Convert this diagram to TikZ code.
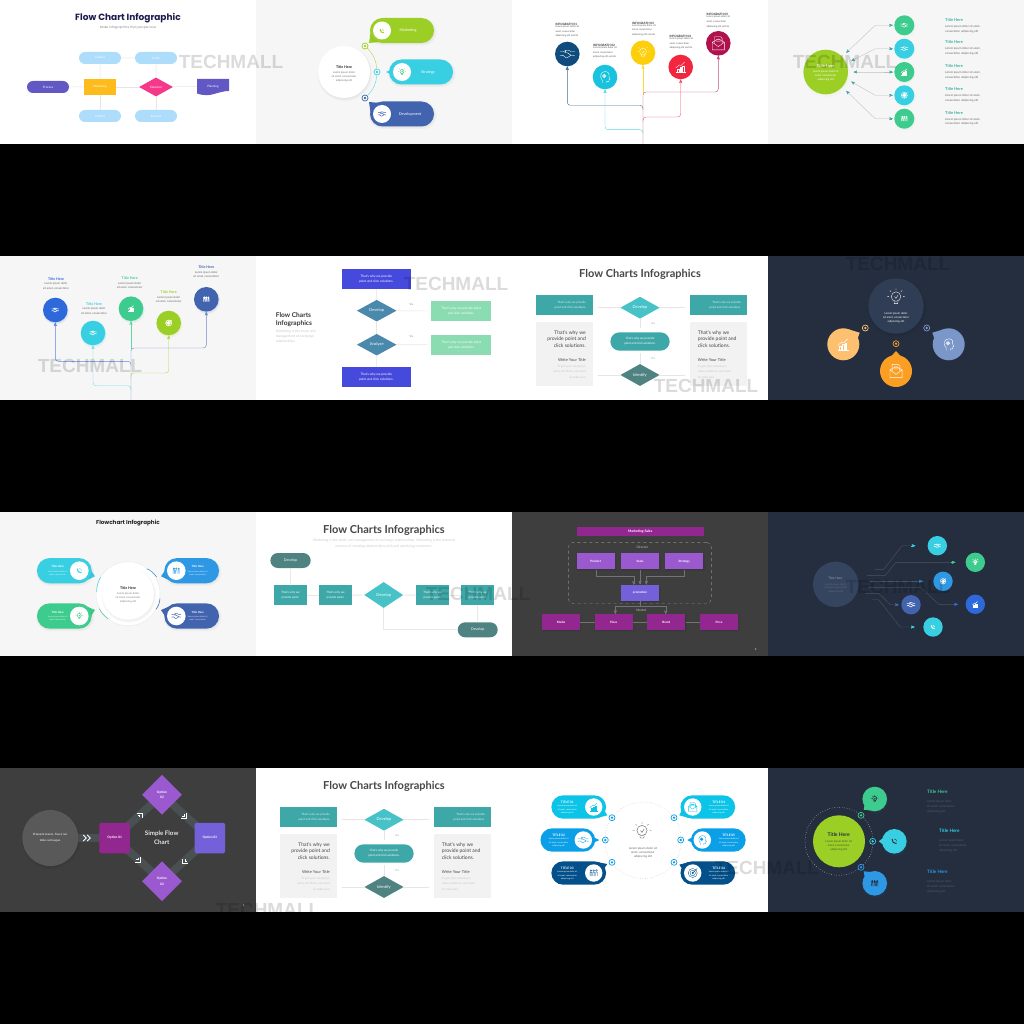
\documentclass[tikz,border=0pt]{standalone}
\usepackage{fontspec}
\setmainfont{Lato}
\newfontfamily\popfont{Poppins}
\newfontfamily\markfont{Liberation Sans}
\usepackage{xcolor}
\definecolor{cInk}{RGB}{29,27,76}
\definecolor{cSky}{RGB}{174,220,251}
\definecolor{cPlum}{RGB}{98,88,196}
\definecolor{cAmber}{RGB}{253,187,28}
\definecolor{cPink}{RGB}{245,56,138}
\definecolor{cPaper}{RGB}{246,246,246}
\definecolor{cLime}{RGB}{156,207,37}
\definecolor{cAqua}{RGB}{56,207,227}
\definecolor{cIndigo}{RGB}{66,99,174}
\definecolor{cMint}{RGB}{62,203,142}
\definecolor{cNavy}{RGB}{15,76,125}
\definecolor{cCyan}{RGB}{25,195,222}
\definecolor{cYellow}{RGB}{253,207,10}
\definecolor{cRed}{RGB}{242,38,63}
\definecolor{cCrimson}{RGB}{176,18,78}
\definecolor{cTeal}{RGB}{62,168,168}
\definecolor{cTealB}{RGB}{71,194,199}
\definecolor{cTealC}{RGB}{79,131,130}
\definecolor{cSteel}{RGB}{74,137,171}
\definecolor{cBlue}{RGB}{69,73,220}
\definecolor{cSea}{RGB}{139,220,176}
\definecolor{cSlate}{RGB}{36,46,63}
\definecolor{cSlateB}{RGB}{47,61,85}
\definecolor{cSlateC}{RGB}{53,68,95}
\definecolor{cChar}{RGB}{62,62,62}
\definecolor{cBar}{RGB}{74,79,82}
\definecolor{cMag}{RGB}{146,39,143}
\definecolor{cPurp}{RGB}{155,89,208}
\definecolor{cVio}{RGB}{116,96,216}
\definecolor{cRoyal}{RGB}{46,105,219}
\definecolor{cAzure}{RGB}{46,152,229}
\definecolor{cPeach}{RGB}{253,191,112}
\definecolor{cOrange}{RGB}{251,159,36}
\definecolor{cDust}{RGB}{123,150,200}
\definecolor{cTurq}{RGB}{12,195,232}
\definecolor{cOcean}{RGB}{11,159,232}
\definecolor{cDeep}{RGB}{4,80,138}
\usetikzlibrary{positioning}
\usetikzlibrary{arrows,shapes,shapes.misc,shapes.geometric}
\usetikzlibrary{shadows}
\usetikzlibrary{calc}
\newcommand{\softop}{.025}
\tikzset{
  softshadow/.style={
    general shadow={shadow xshift=.4pt,shadow yshift=-.8pt,shadow scale=1,opacity=\softop,fill=#1},
    general shadow={shadow xshift=.6pt,shadow yshift=-1.2pt,shadow scale=1.03,opacity=\softop,fill=#1},
    general shadow={shadow xshift=.8pt,shadow yshift=-1.6pt,shadow scale=1.06,opacity=\softop,fill=#1}},
  softshadow/.default=black,
  tinytext/.style={inner sep=0,align=center,font=\fontsize{2.7}{4}\selectfont},
  labeltext/.style={inner sep=0,align=center,text=white,font=\fontsize{3.4}{4.6}\selectfont},
  headtext/.style={inner sep=0,font=\bfseries\fontsize{3.6}{4.6}\selectfont},
  bigtitle/.style={inner sep=0,text=black!72,font=\bfseries\fontsize{11}{13}\selectfont},
  pillbox/.style={rounded rectangle,inner sep=0,text=white,minimum width=#1},
  boxshape/.style={rectangle,inner sep=0,text=white,align=center,font=\fontsize{3.2}{4.6}\selectfont},
  diamondbox/.style={diamond,inner sep=0,text=white,font=\fontsize{4}{5}\selectfont},
  whitedot/.style={circle,fill=white,inner sep=0,minimum size=#1},
  ringdot/.style={circle,draw=#1,fill=white,line width=.7pt,inner sep=0,minimum size=6pt,
    path picture={\fill[#1] (path picture bounding box.center) circle (1.3pt);}},
  faintline/.style={draw=black!10,line width=.5pt},
  watermark/.style={inner sep=0,opacity=.14,text=black,font=\markfont\bfseries\fontsize{19}{19}\selectfont},
  chartico/.pic={
    \draw[pic actions] (-5,5) -- (5,5) (-3.5,5) -- (-3.5,2) -- (-2,2) -- (-2,5) (-1,5) -- (-1,0) -- (.5,0) -- (.5,5) (1.5,5) -- (1.5,-1) -- (3,-1) -- (3,5);
    \draw[pic actions] (-5,1) -- (-1.5,-2) -- (.5,-1.5) -- (4,-5);
  },
  bulbico/.pic={
    \draw[pic actions] (0,-1) circle (3.4) (-1.4,2.4) -- (-1.2,4) -- (1.2,4) -- (1.4,2.4) (-1,-1) -- (0,.3) -- (1.4,-2);
    \draw[pic actions] (-5,-1) -- (-6.2,-1) (5,-1) -- (6.2,-1) (0,-5.5) -- (0,-6.8) (-3.5,-4.5) -- (-4.4,-5.4) (3.5,-4.5) -- (4.4,-5.4);
  },
  headico/.pic={
    \draw[pic actions] (-2.5,6) -- (-2.5,3.5) .. controls (-5.5,1) and (-5,-5.5) .. (0,-5.5) .. controls (4,-5.5) and (5,-2) .. (4,0) -- (5.2,2.2) -- (4,2.6) -- (4,4.6) -- (1.5,4.6) -- (1.5,6);
    \draw[pic actions] (-.8,-1) circle (1.9) (-.8,-1) circle (.6);
  },
  mailico/.pic={
    \draw[pic actions] (-5.5,-1) -- (-5.5,6) -- (5.5,6) -- (5.5,-1) -- (0,-4) -- cycle (-5.5,-1) -- (0,3) -- (5.5,-1);
    \draw[pic actions] (-3.5,0) -- (-3.5,-6) -- (2,-6) -- (3.5,-4.5) -- (3.5,0) (-2,-3.5) -- (2,-3.5) (-2,-2) -- (2,-2);
  },
  handico/.pic={
    \draw[pic actions] (-6,-2) -- (-3,-2) -- (-1,-3) -- (1,-3) -- (3,-2) -- (6,-2) (-6,1.5) -- (-3.5,1) -- (-1,3) -- (0,3) -- (3,1) -- (6,1.5);
    \draw[pic actions] (-1,-3) -- (-2,-1) -- (0,-1) -- (3,1);
  },
  peopleico/.pic={
    \foreach \u in {-3.5,0,3.5}{
      \draw[pic actions] (\u,-3) circle (1.1) (\u-1,4) -- (\u-1,-1) -- (\u+1,-1) -- (\u+1,4);
    }
  },
  phoneico/.pic={
    \draw[pic actions,line width=1pt] (-3,-3) .. controls (-3,1) and (-1,3) .. (3,3);
    \draw[pic actions] (0,-3) .. controls (2,-3) and (3,-2) .. (3,0);
  },
  targetico/.pic={
    \draw[pic actions] (0,0) circle (5) (0,0) circle (3) (0,0) circle (1) (0,0) -- (5,-5);
  },
  cornerico/.pic={
    \draw[pic actions] (-3,-3.5) -- (3.5,-3.5) -- (3.5,3) (-2,-.5) -- (.5,-.5) -- (.5,2);
  },
  chevronico/.pic={
    \draw[pic actions] (-3.5,-3) -- (-.5,0) -- (-3.5,3) (.5,-3) -- (3.5,0) -- (.5,3);
  },
}

\begin{document}
\begin{tikzpicture}[x=1pt,y=-1pt]
\useasboundingbox (0,0) rectangle (1024,1024);
%everything sits on black, tiles on top
\fill[black] (0,0) rectangle (1024,1024);
\foreach \x/\y/\col in {0/0/white,256/0/cPaper,512/0/white,768/0/cPaper,
  0/256/cPaper,256/256/white,512/256/white,768/256/cSlate,
  0/512/cPaper,256/512/white,512/512/cChar,768/512/cSlate,
  0/768/cChar,256/768/white,512/768/white,768/768/cSlate}{
  \fill[\col] (\x,\y) rectangle ++(256,144);
}

%flow chart with blue pills
\node (a0) at (128,18) [inner sep=0,text=cInk,font=\popfont\bfseries\fontsize{9}{11}\selectfont] {Flow Chart Infographic};
\node (a9) at (128,28) [inner sep=0,text=black!45,font=\popfont\fontsize{3.2}{4}\selectfont] {Make infographics that people love};
\foreach \n/\x/\y/\col/\txt in {a1/100/58/cSky/Capital,a2/156/58/cSky/Profit,a3/48/87/cPlum/Process,a4/100/116/cSky/Control,a5/156/116/cSky/Success}{
  \node (\n) at (\x,\y) [pillbox=42pt,minimum height=12pt,fill=\col,font=\fontsize{3}{4}\selectfont] {\txt};
}
\node (a6) at (100,87) [boxshape,fill=cAmber,minimum width=32pt,minimum height=16pt,font=\fontsize{3}{4}\selectfont] {Marketing};
\node (a7) at (156,87) [diamondbox,fill=cPink,minimum width=34pt,minimum height=19pt,font=\fontsize{3}{4}\selectfont] {Decision};
\fill[cPlum] (197,79) -- (229,79) -- (229,91) .. controls (220,91) and (212,96) .. (205,95) .. controls (201,95) and (199,94) .. (197,93.5) -- cycle;
\node (a8) at (213,86.5) [labeltext,minimum width=32pt,font=\fontsize{3}{4}\selectfont] {Planning};
\draw[faintline] (a1) -- (a6);
\draw[faintline] (a6) -- (a4);
\draw[faintline] (a2) -- (a7);
\draw[faintline] (a7) -- (a5);
\draw[faintline] (a1) -- (a2);
\draw[faintline] (a3) -- (a6);
\draw[faintline] (a6) -- (a7);
\draw[faintline] (a7) -- (a8.west);

%three speech pills
\begin{scope}[shift={(256,0)}]
\node (b0) at (88,72) [whitedot=52pt,softshadow] {};
\node (b1) at (88,67) [headtext,text=black!85] {Title Here};
\node (b2) at (88,77) [tinytext,text=black!55] {Lorem ipsum dolor\\sit amet, consectetur\\adipiscing elit};
\fill[cLime] (114.5,33) -- (113,43) -- (124,42) -- cycle;
\fill[cAqua] (137,69) -- (130,72) -- (137,75) -- cycle;
\fill[cIndigo] (114.5,112) -- (113,102) -- (124,103) -- cycle;
\foreach \n/\x/\y/\col/\tx/\ix/\txt in {3/146/30.5/cLime/152/126/Marketing,4/165/72/cAqua/172/146/Strategy,5/146/114/cIndigo/154/126/Development}{
  \node (b\n) at (\x,\y) [pillbox=64pt,minimum height=25pt,fill=\col,softshadow] {};
  \node (bw\n) at (\ix,\y) [whitedot=18pt] {};
  \node (bt\n) at (\tx,\y) [labeltext,font=\fontsize{3.8}{5}\selectfont] {\txt};
}
\pic[draw=cLime,line width=.4pt,scale=.6] at (126,31) {phoneico};
\pic[draw=cMint,line width=.4pt,scale=.6] at (146,72) {bulbico};
\pic[draw=cIndigo,line width=.5pt,scale=.7] at (126,114) {handico};
\node (br1) at (109,46) [ringdot=cLime] {};
\node (br2) at (121,72) [ringdot=cAqua] {};
\node (br3) at (109,98) [ringdot=cIndigo] {};
\draw[cLime!70,line width=.5pt] (br1) to[bend left=20] (br2);
\draw[cAqua!70,line width=.5pt] (br2) to[bend left=20] (br3);
\end{scope}

%two trees of circles
\foreach \k/\ox/\oy/\softop/\ca/\cb/\cc/\cd/\ce in {c/512/0/0/cNavy/cCyan/cYellow/cRed/cCrimson,e/0/256/.06/cRoyal/cAqua/cMint/cLime/cIndigo}{
  \begin{scope}[shift={(\ox,\oy)}]
  \node (\k1) at (55.3,54) [circle,fill=\ca,minimum size=24.6pt,inner sep=0,softshadow=\ca] {};
  \node (\k2) at (93,77) [circle,fill=\cb,minimum size=24.6pt,inner sep=0,softshadow=\cb] {};
  \node (\k3) at (131,52.7) [circle,fill=\cc,minimum size=24.6pt,inner sep=0,softshadow=\cc] {};
  \node (\k4) at (168.7,67) [circle,fill=\cd,minimum size=24.6pt,inner sep=0,softshadow=\cd] {};
  \node (\k5) at (206.3,43.3) [circle,fill=\ce,minimum size=24.6pt,inner sep=0,softshadow=\ce] {};
  \coordinate (\k0) at (131,144);
  \coordinate (\k6) at (131,93);
  \draw[->,>=stealth',rounded corners=3pt,line width=.4pt,draw=\ca!80] (131,110) -- (131,105.3) -- (55.3,105.3) -- (\k1);
  \draw[->,>=stealth',rounded corners=3pt,line width=.4pt,draw=\cb!70] (131,134) -- (131,129.7) -- (93,129.7) -- (\k2);
  \draw[->,>=stealth',line width=.4pt,draw=\cc!80] (\k6) -- (\k3);
  \draw[->,>=stealth',rounded corners=3pt,line width=.4pt,draw=\cd!80] (131,122) -- (131,117) -- (168.7,117) -- (\k4);
  \draw[->,>=stealth',rounded corners=3pt,line width=.4pt,draw=\ce!75] (\k0) -- (131,92) -- (206.3,92) -- (\k5);
  \end{scope}
}
\begin{scope}[shift={(512,0)}]
\foreach \n/\x/\y in {1/43.3/24.5,2/81/45.3,3/120/23,4/157.3/36.3,5/194.3/14.7}{
  \node (ct\n) at (\x,\y) [headtext,anchor=west,text=black!80,font=\bfseries\fontsize{3}{4}\selectfont] {INFOGRATH 0\n};
  \node (cl\n) at (\x,\y+7.2) [tinytext,anchor=west,align=left,text=black!65,font=\fontsize{2.5}{4.6}\selectfont] {Lorem ipsum dolor sit\\amet, consectetur\\adipiscing elit sed do};
}
\pic[draw=white,line width=.35pt,scale=1.25] at (c1) {handico};
\pic[draw=white,line width=.35pt] at (c2) {headico};
\pic[draw=white,line width=.35pt] at (c3) {bulbico};
\pic[draw=white,line width=.35pt] at (c4) {chartico};
\pic[draw=white,line width=.35pt,scale=1.1] at (c5) {mailico};
\end{scope}

%big circle with five arrows
\begin{scope}[shift={(768,0)}]
\node (d0) at (57.7,72) [circle,fill=cLime,minimum size=44.6pt,inner sep=0,softshadow=cLime] {};
\node (d8) at (57.7,66.3) [headtext,text=white,font=\bfseries\fontsize{4}{5}\selectfont] {Title Here};
\node (d9) at (57.7,76) [tinytext,text=white] {Lorem ipsum dolor sit\\amet, consectetur\\adipiscing elit};
\foreach \n/\y/\tty/\col/\ax/\ay/\mx in {1/25.3/20.3/cMint/78.3/52.7/107.3,2/48.7/42.3/cAqua/83.3/61/107.3,3/72/66/cMint/85.7/72/107.3,4/95.3/89.3/cAqua/83.3/81.7/107.3,5/118.7/112.7/cMint/78.3/91/107.3}{
  \node (d\n) at (136.3,\y) [circle,fill=\col,minimum size=20pt,inner sep=0,softshadow=\col] {};
  \node (dt\n) at (177,\tty) [headtext,anchor=west,text=cTeal!90!cMint,font=\bfseries\fontsize{4}{5}\selectfont] {Title Here};
  \node (dl\n) at (177,\tty+9) [tinytext,anchor=west,align=left,text=black!60,font=\fontsize{2.9}{4.4}\selectfont] {Lorem ipsum dolor sit amet,\\consectetur adipiscing elit};
  \coordinate (ds\n) at (\ax,\ay);
  \coordinate (de\n) at (124.7,\y);
  \draw[line width=.35pt,draw=black!25] (ds\n) -- (\mx,\y) -- (de\n);
  \draw[<-,>=stealth',line width=.35pt,draw=cTeal] (ds\n) -- ($(ds\n)!2.5pt!(\mx,\y)$);
  \draw[->,>=stealth',line width=.35pt,draw=cTeal] (121.7,\y) -- (de\n);
}
\pic[draw=white,line width=.5pt,scale=.6] at (d1) {handico};
\pic[draw=white,line width=.5pt,scale=.6] at (d2) {handico};
\pic[draw=white,line width=.5pt,scale=.6] at (d3) {chartico};
\pic[draw=white,line width=.5pt,scale=.6] at (d4) {targetico};
\pic[draw=white,line width=.5pt,scale=.6] at (d5) {peopleico};
\end{scope}

%second tree labels
\begin{scope}[shift={(0,256)}]
\foreach \n/\x/\y/\col in {1/56/22.7/cRoyal,2/94/47.7/cAqua,3/129.7/22/cMint,4/168.7/36/cLime,5/206.3/11.3/cIndigo}{
  \node (et\n) at (\x,\y) [headtext,text=\col,font=\bfseries\fontsize{3.6}{4.6}\selectfont] {Title Here};
  \node (el\n) at (\x,\y+7.4) [tinytext,text=black!60,font=\fontsize{2.8}{4.2}\selectfont] {Lorem ipsum dolor\\sit amet, consectetur};
}
\pic[draw=white,line width=.6pt,scale=.6] at (e1) {handico};
\pic[draw=white,line width=.6pt,scale=.6] at (e2) {handico};
\pic[draw=white,line width=.6pt,scale=.6] at (e3) {chartico};
\pic[draw=white,line width=.6pt,scale=.6] at (e4) {targetico};
\pic[draw=white,line width=.6pt,scale=.6] at (e5) {peopleico};
\end{scope}

%blue boxes and two decisions
\begin{scope}[shift={(256,256)}]
\node (f1) at (120.3,23) [boxshape,fill=cBlue,minimum width=69pt,minimum height=20pt] {That's why we provide\\point and click solutions.};
\node (f2) at (120.7,54.7) [diamondbox,fill=cSteel,minimum width=39.7pt,minimum height=21.7pt] {Develop};
\node (f3) at (120.7,88.7) [diamondbox,fill=cSteel,minimum width=39.7pt,minimum height=21.7pt] {Analyze};
\node (f4) at (120.3,121) [boxshape,fill=cBlue,minimum width=69pt,minimum height=20pt] {That's why we provide\\point and click solutions.};
\node (f5) at (205.3,54.8) [boxshape,fill=cSea,minimum width=60pt,minimum height=20pt] {That's why we provide point\\and click solutions.};
\node (f6) at (205.3,88.5) [boxshape,fill=cSea,minimum width=60pt,minimum height=20pt] {That's why we provide point\\and click solutions.};
\draw[faintline] (f1) -- (f2);
\draw[faintline] (f2) -- (f3);
\draw[faintline] (f3) -- (f4);
\draw[faintline] (f2) -- ([xshift=-4pt]f5.west);
\draw[faintline] (f3) -- ([xshift=-4pt]f6.west);
\node (f7) at (155.3,48.7) [tinytext,text=black!45] {Yes};
\node (f8) at (155.3,81) [tinytext,text=black!45] {Yes};
\node (f9) at (19.7,63.7) [inner sep=0,anchor=west,align=left,text=black!78,font=\bfseries\fontsize{6.6}{8}\selectfont] {Flow Charts\\Infographics};
\node (f10) at (19.7,80.8) [inner sep=0,anchor=west,align=left,text=black!22,font=\fontsize{3.4}{4.9}\selectfont] {Marketing is the study and\\management of exchange\\relationships.};
\end{scope}

%teal boxes, used twice
\foreach \k/\ox/\oy in {g/512/256,n/256/768}{
  \begin{scope}[shift={(\ox,\oy)}]
  \node (\k0) at (128,18) [bigtitle] {Flow Charts Infographics};
  \node (\k1) at (52.3,49) [boxshape,fill=cTeal,minimum width=57.3pt,minimum height=20pt] {};
  \node (\k2) at (206.8,49) [boxshape,fill=cTeal,minimum width=57.3pt,minimum height=20pt] {};
  \node (\k3) at (74,49) [anchor=east,labeltext,align=right,text=white!80!cTeal,font=\fontsize{2.9}{5}\selectfont] {That's why we provide\\point and click solutions.};
  \node (\k4) at (229,49) [anchor=east,labeltext,align=right,text=white!80!cTeal,font=\fontsize{2.9}{5}\selectfont] {That's why we provide\\point and click solutions.};
  \node (\k5) at (128,51.7) [diamondbox,fill=cTealB,minimum width=39.3pt,minimum height=22pt] {Develop};
  \node (\k6) at (128,85.5) [pillbox=59.3pt,minimum height=18.4pt,fill=cTeal,align=center,font=\fontsize{2.9}{5}\selectfont] {That's why we provide\\point and click solutions.};
  \node (\k7) at (128,119) [diamondbox,fill=cTealC,minimum width=39.3pt,minimum height=22pt] {Identify};
  \coordinate (\k8) at (86.3,51.7);
  \coordinate (\k9) at (173.3,51.7);
  \coordinate (\k10) at (86.3,119);
  \coordinate (\k11) at (173.3,119);
  \draw[faintline] (\k8) -- (\k5);
  \draw[faintline] (\k5) -- (\k9);
  \draw[faintline] (\k10) -- (\k7);
  \draw[faintline] (\k7) -- (\k11);
  \draw[faintline] (\k5) -- (128,71.5);
  \draw[faintline] (\k7) -- (128,96.5);
  \node (\k12) at (141,67.7) [tinytext,text=black!35] {Yes};
  \node (\k13) at (141,103) [tinytext,text=black!35] {Yes};
  \node (\k14) at (52.3,97.8) [boxshape,fill=black!5,minimum width=57.3pt,minimum height=64.3pt] {};
  \node (\k15) at (206.8,97.8) [boxshape,fill=black!5,minimum width=57.3pt,minimum height=64.3pt] {};
  \node (\k16) at (74,82.7) [anchor=east,inner sep=0,align=right,text=black!72,font=\fontsize{5}{6.5}\selectfont] {That's why we\\provide point and\\click solutions.};
  \node (\k17) at (74,104) [anchor=east,inner sep=0,text=black!72,font=\fontsize{4}{5}\selectfont] {Write Your Title};
  \node (\k18) at (74,115.5) [anchor=east,inner sep=0,align=right,text=black!22,font=\fontsize{2.9}{5.5}\selectfont] {To get your company's\\name out there, you need\\to make sure};
  \node (\k19) at (185.7,82.7) [anchor=west,inner sep=0,align=left,text=black!72,font=\fontsize{5}{6.5}\selectfont] {That's why we\\provide point and\\click solutions.};
  \node (\k20) at (185.7,104) [anchor=west,inner sep=0,text=black!72,font=\fontsize{4}{5}\selectfont] {Write Your Title};
  \node (\k21) at (185.7,115.5) [anchor=west,inner sep=0,align=left,text=black!22,font=\fontsize{2.9}{5.5}\selectfont] {To get your company's\\name out there, you need\\to make sure};
  \end{scope}
}

%dark tile with three bubbles
\begin{scope}[shift={(768,256)}]
\node (h0) at (128,50) [circle,fill=cSlateB,minimum size=55.4pt,inner sep=0,softshadow] {};
\pic[draw=white,line width=.35pt,scale=1.4] at (128,42) {bulbico};
\node (h1) at (128,62) [tinytext,text=white,font=\fontsize{2.8}{3.9}\selectfont] {Lorem ipsum dolor\\sit amet, consectetur\\adipiscing elit};
\fill[cPeach] (81,73.5) -- (91.7,76.7) -- (89.5,83) -- cycle;
\fill[cOrange] (123,100.5) -- (128,95) -- (133,100.5) -- cycle;
\fill[cDust] (175,73.5) -- (164.3,76.7) -- (166.5,83) -- cycle;
\node (h2) at (75.3,88.3) [circle,fill=cPeach,minimum size=32pt,inner sep=0] {};
\node (h3) at (128,115) [circle,fill=cOrange,minimum size=32pt,inner sep=0] {};
\node (h4) at (180.7,88.3) [circle,fill=cDust,minimum size=32pt,inner sep=0] {};
\pic[draw=white,line width=.4pt,scale=1.1] at (h2) {chartico};
\pic[draw=white,line width=.4pt,scale=1.1] at (h3) {mailico};
\pic[draw=white,line width=.4pt] at (h4) {headico};
\node (h5) at (97.3,72) [ringdot=cPeach,fill=cSlate] {};
\node (h6) at (128,87.7) [ringdot=cOrange,fill=cSlate] {};
\node (h7) at (158.7,72) [ringdot=cDust,fill=cSlate] {};
\end{scope}

%four pills around a ring
\begin{scope}[shift={(0,512)}]
\node (i0) at (128,11.3) [inner sep=0,text=black!85,font=\popfont\bfseries\fontsize{5.6}{7}\selectfont] {Flowchart Infographic};
\node (i1) at (128,81.7) [circle,draw=black!8,line width=.5pt,fill=white,minimum size=64pt,inner sep=0] {};
\node (i2) at (128,81.7) [whitedot=52pt,softshadow] {};
\node (i3) at (128,75.7) [headtext,text=black!85] {Title Here};
\node (i4) at (128,86) [tinytext,text=black!50] {Lorem ipsum dolor\\sit amet, consectetur\\adipiscing elit};
\fill[cAqua] (90,57) -- (95,64.3) -- (85,69) -- cycle;
\fill[cAzure] (166,57) -- (161,64.3) -- (171,69) -- cycle;
\fill[cMint] (90,105.7) -- (95,98) -- (85,93.7) -- cycle;
\fill[cIndigo] (166,105.7) -- (161,98) -- (171,93.7) -- cycle;
\foreach \n/\x/\y/\col/\ix/\tx in {5/64.3/58.7/cAqua/79.3/57.7,6/191.7/58.7/cAzure/176.3/197.7,7/64.3/104/cMint/79.3/57.7,8/191.7/104/cIndigo/176.3/197.7}{
  \node (i\n) at (\x,\y) [pillbox=54.7pt,minimum height=25.3pt,fill=\col,softshadow] {};
  \node (iw\n) at (\ix,\y) [whitedot=18.6pt] {};
  \node (it\n) at (\tx,\y-4) [headtext,text=white,font=\bfseries\fontsize{2.8}{3.6}\selectfont] {Title Here};
  \node (il\n) at (\tx,\y+2.5) [tinytext,text=white!80!\col,font=\fontsize{2.1}{3.4}\selectfont] {Lorem ipsum dolor sit\\amet, consectetur};
}
\pic[draw=cAqua,line width=.4pt,scale=.7] at (iw5) {phoneico};
\pic[draw=cAzure,line width=.4pt,scale=.7] at (iw6) {peopleico};
\pic[draw=cMint,line width=.4pt,scale=.6] at (iw7) {bulbico};
\pic[draw=cIndigo,line width=.5pt,scale=.8] at (iw8) {handico};
\coordinate (i11) at (96.7,80);
\coordinate (i12) at (100.7,65);
\coordinate (i13) at (146.7,56.7);
\coordinate (i14) at (156.7,65);
\coordinate (i15) at (160,86.7);
\coordinate (i16) at (156,97.3);
\coordinate (i17) at (99.3,96.7);
\coordinate (i18) at (108.3,106.7);
\draw[cAqua,line width=.5pt] (i11) to[bend left=15] (i12);
\draw[cAzure,line width=.5pt] (i13) to[bend left=15] (i14);
\draw[cIndigo,line width=.5pt] (i15) to[bend left=15] (i16);
\draw[cMint,line width=.5pt] (i18) to[bend left=15] (i17);
\end{scope}

%teal flow row
\begin{scope}[shift={(256,512)}]
\node (j0) at (128,18) [bigtitle] {Flow Charts Infographics};
\node (j1) at (128,31.5) [inner sep=0,align=center,text=black!20,font=\fontsize{3.5}{5.6}\selectfont] {Marketing is the study and management of exchange relationships. Marketing is the business\\process of creating relationships with and satisfying customers.};
\node (j2) at (34.5,48.5) [pillbox=40.3pt,minimum height=15pt,fill=cTealC,font=\fontsize{3.6}{5}\selectfont] {Develop};
\foreach \n/\x in {3/34.5,4/79.5,6/176.5,7/221.5}{
  \node (j\n) at (\x,83.2) [boxshape,fill=cTeal,minimum width=33pt,minimum height=19.7pt,font=\fontsize{2.9}{4.4}\selectfont] {That's why we\\provide point.};
}
\node (j5) at (127.7,83) [diamondbox,fill=cTealB,minimum width=39pt,minimum height=26pt] {Develop};
\node (j8) at (221.7,117.8) [pillbox=40pt,minimum height=15pt,fill=cTealC,font=\fontsize{3.6}{5}\selectfont] {Develop};
\foreach \a/\b in {2/3,3/4,4/5,5/6,6/7,7/8}{
  \draw[black!9,line width=.8pt] (j\a) -- (j\b);
}
\draw[black!9,line width=.8pt] (j5) |- (j8);
\end{scope}

%purple organisation
\begin{scope}[shift={(512,512)}]
\node (k0) at (128.2,19.5) [boxshape,fill=cMag,minimum width=127pt,minimum height=9.6pt,font=\bfseries\fontsize{3.4}{4}\selectfont] {Marketing Sales};
\node (k1) at (127.8,61) [rectangle,rounded corners=5pt,draw=black!45,dashed,line width=.4pt,minimum width=143pt,minimum height=61.4pt] {};
\node (k2) at (130.3,35.3) [tinytext,text=black!25,font=\fontsize{3.2}{4}\selectfont] {Director};
\foreach \n/\x/\txt in {3/83.7/Product,4/128/Sales,5/172.3/Strategy}{
  \node (k\n) at (\x,49.3) [boxshape,fill=cPurp,minimum width=38pt,minimum height=16pt,font=\bfseries\fontsize{3}{4}\selectfont,softshadow] {\txt};
}
\node (k6) at (128,80.7) [boxshape,fill=cVio,minimum width=38pt,minimum height=16pt,font=\bfseries\fontsize{3}{4}\selectfont,softshadow] {promotion};
\node (k7) at (129.3,98.3) [tinytext,text=black!25,font=\fontsize{3.2}{4}\selectfont] {Market};
\foreach \n/\x/\txt in {8/49/Media,9/101.7/Place,10/154.3/Brand,11/207/Price}{
  \node (k\n) at (\x,110) [boxshape,fill=cMag,minimum width=38pt,minimum height=16pt,font=\bfseries\fontsize{3}{4}\selectfont,softshadow] {\txt};
}
\draw[->,>=stealth',black!55,line width=.4pt] (k3.south) -- (83.7,64.3) -- (121.7,64.3) -- (121.7,72.7);
\draw[->,>=stealth',black!55,line width=.4pt] (k4) -- (k6);
\draw[->,>=stealth',black!55,line width=.4pt] (k5.south) -- (172.3,64.3) -- (134.3,64.3) -- (134.3,72.7);
\draw[->,>=stealth',black!55,line width=.4pt] (k6.south) -- (128,94.3) -- (103.3,94.3) -- (103.3,102);
\draw[->,>=stealth',black!55,line width=.4pt] (k6.south) -- (128,94.3) -- (153.7,94.3) -- (153.7,102);
\draw[black!55,line width=.4pt] (k8) -- (k9);
\draw[black!55,line width=.4pt] (k9) -- (k10);
\draw[black!55,line width=.4pt] (k10) -- (k11);
\node (k12) at (243.7,137.3) [tinytext,text=white] {2};
\end{scope}

%dark tile, six arrows
\begin{scope}[shift={(768,512)}]
\node (l0) at (67.7,72.3) [circle,fill=cSlateC,minimum size=45.4pt,inner sep=0] {};
\node (l7) at (67.3,66.7) [headtext,text=white!55!cSlate,font=\fontsize{3.2}{4}\selectfont] {Title Here};
\node (l8) at (67.7,76) [tinytext,text=white!30!cSlate,font=\fontsize{2.5}{3.6}\selectfont] {Lorem ipsum dolor\\sit amet, consectetur\\adipiscing elit};
\foreach \n/\x/\y/\col/\ex/\sx/\sy/\pa/\pb/\pc/\pd in {1/169.3/33.7/cAqua/147.3/107.3/57.3/115.7/57.3/134/33.7,2/207.3/50.3/cMint/187.3/99/63.3/117.3/63.3/128/50.3,4/207.3/92.3/cRoyal/190/100.7/75.3/152.3/75.3/170.7/92.3,5/143/92.7/cIndigo/130.7/97.3/81.3/110.7/81.3/122.3/92.7,6/165/115/cAqua/146.7/104/87.7/110.7/87.7/132.3/115}{
  \node (l\n) at (\x,\y) [circle,fill=\col,minimum size=19.4pt,inner sep=0] {};
  \coordinate (ls\n) at (\sx,\sy);
  \coordinate (le\n) at (\ex,\y);
  \draw[line width=.4pt,draw=white!18!cSlate] (ls\n) -- (\pa,\pb) -- (\pc,\pd) -- (le\n);
  \draw[->,>=stealth',line width=.4pt,draw=\col] (\ex-4,\y) -- (le\n);
}
\node (l3) at (175,69.3) [circle,fill=cAzure,minimum size=19.4pt,inner sep=0] {};
\coordinate (ls3) at (102.3,69.3);
\coordinate (le3) at (154.7,69.3);
\draw[line width=.4pt,draw=white!18!cSlate] (ls3) -- (le3);
\draw[->,>=stealth',line width=.4pt,draw=cAzure] (150.7,69.3) -- (le3);
\pic[draw=white,line width=.5pt,scale=.55] at (l1) {handico};
\pic[draw=white,line width=.5pt,scale=.55] at (l2) {bulbico};
\pic[draw=white,line width=.5pt,scale=.55] at (l3) {targetico};
\pic[draw=white,line width=.5pt,scale=.55] at (l4) {chartico};
\pic[draw=white,line width=.6pt,scale=.7] at (l5) {handico};
\pic[draw=white,line width=.5pt,scale=.55] at (l6) {phoneico};
\end{scope}

%simple flow chart diamond
\begin{scope}[shift={(0,768)}]
\coordinate (m1) at (50.3,70);
\coordinate (m2) at (114.7,70);
\coordinate (m3) at (162,26.7);
\coordinate (m4) at (209.8,70);
\coordinate (m5) at (162,113.3);
\draw[line width=8pt,draw=cBar] (m1) -- (m2);
\draw[line width=8pt,draw=cBar] (m2) -- (m3) -- (m4) -- (m5) -- cycle;
\node (m6) at (m1) [circle,fill=black!65,minimum size=56pt,inner sep=0,align=center,text=white,font=\fontsize{2.9}{6}\selectfont,softshadow] {Praesent mauris. Fusce nec\\tellus sed augue.};
\node (m7) at (m2) [rectangle,rounded corners=1.5pt,fill=cMag,minimum size=30.5pt,inner sep=0,text=white,font=\bfseries\fontsize{3.2}{4}\selectfont] {Option 01};
\node (m8) at (m4) [rectangle,rounded corners=1.5pt,fill=cVio,minimum size=30.5pt,inner sep=0,text=white,font=\bfseries\fontsize{3.2}{4}\selectfont] {Option 03};
\node (m9) at (m3) [diamondbox,fill=cPurp,minimum size=40pt,align=center,font=\bfseries\fontsize{3.2}{5.5}\selectfont] {Option\\02};
\node (m10) at (m5) [diamondbox,fill=cPurp,minimum size=40pt,align=center,font=\bfseries\fontsize{3.2}{5.5}\selectfont] {Option\\02};
\node (m11) at (161.7,69.3) [inner sep=0,align=center,text=white!90!black,font=\bfseries\fontsize{6.2}{9}\selectfont] {Simple Flow\\Chart};
\pic[draw=white,line width=.9pt] at (86.7,70) {chevronico};
\pic[draw=white,line width=.8pt,scale=.8] at (139.3,47.7) {cornerico};
\pic[draw=white,line width=.8pt,scale=.8,rotate=-90] at (183.7,47.7) {cornerico};
\pic[draw=white,line width=.8pt,scale=.8,rotate=-90] at (137.7,91.3) {cornerico};
\pic[draw=white,line width=.8pt,scale=.8,rotate=-180] at (185.3,93) {cornerico};
\node (m12) at (243.7,137.3) [tinytext,text=white] {2};
\end{scope}

%six titled pills
\begin{scope}[shift={(512,768)}]
\node (o0) at (131,72.3) [circle,draw=black!25,dotted,line width=.5pt,minimum size=76.6pt,inner sep=0] {};
\pic[draw=black!70,line width=.35pt,scale=1.5] at (130,64) {bulbico};
\node (o1) at (131,85) [tinytext,text=black!60,font=\fontsize{3}{4}\selectfont] {Lorem ipsum dolor sit\\amet, consectetur\\adipiscing elit};
\fill[cTurq] (85,50) -- (95.3,47.3) -- (92,42) -- cycle;
\fill[cOcean] (80,68.5) -- (87.3,72) -- (80,75.5) -- cycle;
\fill[cDeep] (85,94) -- (95.3,96) -- (91,102) -- cycle;
\fill[cTurq] (177,50) -- (167.3,47.3) -- (170,42) -- cycle;
\fill[cOcean] (182,68.5) -- (175.3,72) -- (182,75.5) -- cycle;
\fill[cDeep] (177,94) -- (167.3,96.7) -- (171,102) -- cycle;
\foreach \n/\x/\y/\col/\ix/\tx in {1/66.7/39/cTurq/81.7/55.3,2/55.8/72/cOcean/71.3/46.7,3/66.7/105/cDeep/81.7/55.3,4/195.8/39/cTurq/180.7/206.7,5/206.3/72/cOcean/190.3/216.7,6/195.8/105/cDeep/180.7/206.7}{
  \node (op\n) at (\x,\y) [pillbox=54.7pt,minimum height=23.3pt,fill=\col] {};
  \node (ow\n) at (\ix,\y) [whitedot=17.4pt] {};
  \node (ot\n) at (\tx,\y-4.4) [headtext,text=white,font=\bfseries\fontsize{3.2}{4}\selectfont] {TITLE 0\n};
  \node (ol\n) at (\tx,\y+2.6) [tinytext,text=white,font=\fontsize{2.1}{3.2}\selectfont] {Lorem ipsum dolor sit\\sit amet, consectetur\\adipiscing elit};
}
\pic[draw=cTurq,line width=.35pt,scale=.8] at (ow1) {chartico};
\pic[draw=cOcean,line width=.35pt,scale=.9] at (ow2) {handico};
\pic[draw=cDeep,line width=.35pt,scale=.8] at (ow3) {peopleico};
\pic[draw=cTurq,line width=.35pt,scale=.75] at (ow4) {mailico};
\pic[draw=cOcean,line width=.35pt,scale=.8] at (ow5) {headico};
\pic[draw=cDeep,line width=.35pt,scale=.9] at (ow6) {targetico};
\foreach \n/\x/\y in {1/100/49.7,2/93.3/72,3/100/94.3,4/162/49.7,5/168.7/72,6/162/94.3}{
  \node (or\n) at (\x,\y) [ringdot=cOcean] {};
}
\end{scope}

%green circle with three bubbles
\begin{scope}[shift={(768,768)}]
\node (q0) at (71,73.3) [circle,draw=white!80!cSlate,dotted,line width=.5pt,minimum size=68pt,inner sep=0] {};
\node (q1) at (71,73.3) [circle,fill=cLime,minimum size=52pt,inner sep=0] {};
\node (q2) at (70.7,67) [headtext,text=cSlate,font=\bfseries\fontsize{5}{6}\selectfont] {Title Here};
\node (q3) at (70.7,78) [tinytext,text=cSlate!75!cLime,font=\fontsize{2.8}{4}\selectfont] {Lorem ipsum dolor sit\\amet, consectetur\\adipiscing elit};
\fill[cMint] (97,34) -- (95.7,41.7) -- (103.5,42.5) -- cycle;
\fill[cAqua] (115,70) -- (110.7,73.3) -- (115,76.5) -- cycle;
\fill[cAzure] (103,104) -- (95.7,103.3) -- (97,111) -- cycle;
\node (q4) at (106.7,31) [circle,fill=cMint,minimum size=24.6pt,inner sep=0,softshadow=cMint] {};
\node (q5) at (126.3,73.3) [circle,fill=cAqua,minimum size=24.6pt,inner sep=0,softshadow=cAqua] {};
\node (q6) at (106.7,115.3) [circle,fill=cAzure,minimum size=24.6pt,inner sep=0,softshadow=cAzure] {};
\pic[draw=cSlate,line width=.5pt,scale=.6] at (q4) {bulbico};
\pic[draw=cSlate,line width=.5pt,scale=.75] at (q5) {phoneico};
\pic[draw=cSlate,line width=.5pt,scale=.7] at (q6) {peopleico};
\node (q7) at (93,47.3) [ringdot=cMint,fill=cSlate] {};
\node (q8) at (104.7,73.3) [ringdot=cAqua,fill=cSlate] {};
\node (q9) at (93,99.3) [ringdot=cAzure,fill=cSlate] {};
\foreach \n/\x/\y/\col in {10/159/24/cMint,11/171/63/cAqua,12/159/104/cAzure}{
  \node (q\n) at (\x,\y) [headtext,anchor=west,text=\col,font=\bfseries\fontsize{4.6}{6}\selectfont] {Title Here};
  \node (qt\n) at (\x,\y+14.7) [tinytext,anchor=west,align=left,text=white!22!cSlate,font=\fontsize{3}{5.2}\selectfont] {Lorem ipsum dolor\\sit amet, consectetur\\adipiscing elit};
}
\end{scope}

%marks over the tiles
\foreach \n/\x/\y in {1/231/62,2/845/62,3/90/366,4/456/284,5/706/386,6/898/264,7/478/594,8/898/587,9/268/910,10/767/868,11/962/762}{
  \node (wm\n) at (\x,\y) [watermark] {TECHMALL};
}
%black bands between the rows
\foreach \y in {144,400,656,912}{
  \fill[black] (0,\y) rectangle ++(1024,112);
}
\end{tikzpicture}
\end{document}
